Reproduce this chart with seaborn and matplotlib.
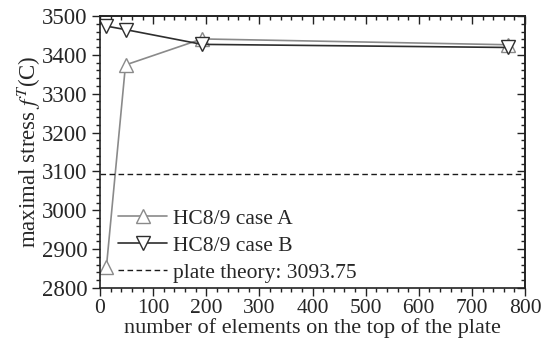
import numpy as np
import pandas as pd
import matplotlib
matplotlib.use("Agg")
import matplotlib.pyplot as plt
import seaborn as sns
from matplotlib.ticker import MultipleLocator

elements = [12, 48, 192, 768]
case_a = [2853, 3374, 3441, 3426]
case_b = [3474, 3465, 3427, 3419]
plate_theory = 3093.75

sns.set_style("ticks")
plt.rcParams['font.family'] = ['Liberation Serif', 'DejaVu Serif']
plt.rcParams['mathtext.fontset'] = 'stix'

df_a = pd.DataFrame({"n": elements, "stress": case_a})
df_b = pd.DataFrame({"n": elements, "stress": case_b})

fig, ax = plt.subplots(figsize=(5.45, 3.46), dpi=100)
fig.subplots_adjust(left=100/545, right=525/545, top=1-16/346, bottom=1-288/346)

sns.lineplot(data=df_a, x="n", y="stress", ax=ax, color="#8a8a8a", marker="^",
             markersize=9.5, markerfacecolor="white", markeredgecolor="#8a8a8a",
             markeredgewidth=1, linewidth=1.2, label="HC8/9 case A")
sns.lineplot(data=df_b, x="n", y="stress", ax=ax, color="#2e2e2e", marker="v",
             markersize=9.5, markerfacecolor="white", markeredgecolor="#2e2e2e",
             markeredgewidth=1, linewidth=1.2, label="HC8/9 case B")
ax.axhline(plate_theory, color="#1a1a1a", linestyle=(0, (4, 2.5)), linewidth=1,
           label="plate theory: 3093.75")

ax.set_xlim(0, 800)
ax.set_ylim(2800, 3500)
ax.xaxis.set_major_locator(MultipleLocator(100))
ax.xaxis.set_minor_locator(MultipleLocator(20))
ax.yaxis.set_major_locator(MultipleLocator(100))
ax.yaxis.set_minor_locator(MultipleLocator(20))
ax.tick_params(which="both", direction="out", top=False, right=False,
               labelsize=16.5, color="#222222", pad=3)
ax.tick_params(axis="x", which="both", pad=2, labelsize=15.5)
ax.tick_params(which="major", length=6, width=1)
ax.tick_params(which="minor", length=3, width=1)

# mirrored ticks on top and right point into the plot
ax_top = ax.secondary_xaxis("top")
ax_top.xaxis.set_major_locator(MultipleLocator(100))
ax_top.xaxis.set_minor_locator(MultipleLocator(20))
ax_top.tick_params(which="both", direction="in", labeltop=False, color="#222222")
ax_top.tick_params(which="major", length=6, width=1)
ax_top.tick_params(which="minor", length=3, width=1)
ax_right = ax.secondary_yaxis("right")
ax_right.yaxis.set_major_locator(MultipleLocator(100))
ax_right.yaxis.set_minor_locator(MultipleLocator(20))
ax_right.tick_params(which="both", direction="in", labelright=False, color="#222222")
ax_right.tick_params(which="major", length=6, width=1)
ax_right.tick_params(which="minor", length=3, width=1)
for a in (ax, ax_top, ax_right):
    for s in a.spines.values():
        s.set_linewidth(1.2)
        s.set_color("#222222")

ax.set_xlabel("number of elements on the top of the plate", fontsize=16, labelpad=0)
ax.set_ylabel(r"maximal stress $f^{T}$(C)", fontsize=16.5, labelpad=-1)

ax.legend(loc="lower left", frameon=False, fontsize=15.5, handlelength=2.3,
          handletextpad=0.25, borderpad=0, borderaxespad=0, labelspacing=0.32,
          bbox_to_anchor=(0.042, 0.02))

fig.savefig("out.png", dpi=100)
